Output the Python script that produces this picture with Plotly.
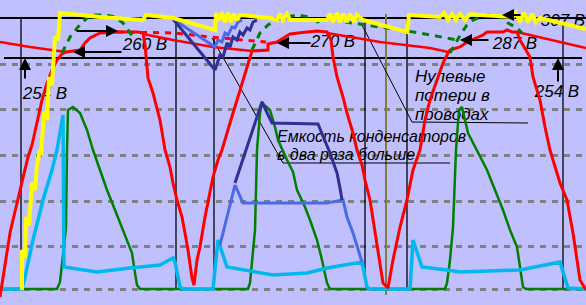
import plotly.graph_objects as go

# ---------------- data (time position, level; level axis drawn downward) ----------------
grid_levels = [64, 109, 155, 201, 246, 289]

# rectified mains voltage with capacitor charging/discharging (red)
red_x = [0, 3, 7, 10, 13, 17, 20, 23, 28, 32, 35, 42, 47, 52, 57, 62, 66, 72, 80, 85, 90, 100, 110, 117, 128, 138, 143,
         145, 148, 153, 160, 165, 170, 173, 177, 182, 185, 188, 192, 194,
         197, 200, 205, 210, 213, 218, 222, 230, 237, 243, 248, 252, 268, 268, 277, 290, 307, 317, 327, 331,
         333, 337, 343, 347, 353, 357, 362, 365, 370, 375, 380, 383, 388,
         393, 400, 407, 413, 420, 425, 430, 437, 443, 448, 450, 460, 467, 483, 487, 503, 507, 512, 517, 520,
         530, 533, 540, 545, 550, 553, 560, 567, 573, 580, 583, 586]
red_y = [297, 277, 250, 233, 220, 203, 193, 177, 157, 145, 132, 100, 83, 70, 60, 54, 52, 51, 50, 43, 38, 33, 32, 32, 32, 32, 33,
         45, 78, 93, 120, 150, 167, 183, 200, 217, 233, 250, 278, 285,
         260, 247, 217, 193, 177, 160, 150, 123, 100, 78, 62, 51, 50, 44, 42, 34, 32, 31, 32, 40,
         57, 77, 97, 113, 133, 150, 165, 180, 200, 233, 267, 283, 288,
         260, 227, 200, 170, 150, 120, 100, 80, 63, 53, 50, 47, 42, 35, 32, 32, 30, 32, 32, 40,
         57, 77, 100, 127, 150, 160, 183, 200, 233, 280, 285, 290]

# capacitor discharge lines (red, solid)
dis1_x, dis1_y = [0, 30, 66], [42, 47, 52]
dis2_x, dis2_y = [143, 173, 213, 252], [34, 40, 47, 51]
dis3_x, dis3_y = [327, 380, 430, 448], [33, 42, 48, 52]
dis4_x, dis4_y = [517, 586], [32, 48]
# discharge with doubled capacitance (red, dashed)
dis2c_x, dis2c_y = [117, 175, 210, 266], [32, 33, 37, 42]

# capacitor current pulses (green, solid)
gs_x = [0, 57, 60, 62, 66, 67, 68, 73, 80, 87, 93, 100, 107, 115, 123, 132, 135, 137, 140,
        248, 250, 252, 255, 257, 260, 262, 270, 275, 278, 287, 293, 297, 305, 310, 317, 322, 327, 330,
        445, 447, 450, 453, 456, 459, 462, 468, 477, 487, 495, 503, 510, 517, 520, 523, 526, 586]
gs_y = [289, 289, 282, 262, 228, 150, 110, 107, 113, 130, 150, 170, 190, 210, 230, 253, 273, 285, 289,
        289, 283, 260, 230, 150, 113, 103, 110, 127, 140, 160, 172, 190, 207, 220, 240, 260, 283, 289,
        289, 283, 260, 227, 150, 110, 107, 133, 150, 170, 190, 210, 230, 247, 267, 287, 289, 289]

# zero wire-loss voltage (green, dashed)
ga1_x, ga1_y = [62, 70, 78, 90, 107, 115, 123, 130, 135], [53, 37, 27, 15, 15, 17, 23, 33, 40]
ga2_x, ga2_y = [252, 256, 260, 268, 280, 297, 310, 318, 322], [50, 42, 33, 25, 18, 15, 17, 22, 28]
gd2_x, gd2_y = [345, 367, 387, 420, 440, 457], [22, 25, 28, 33, 37, 40]
ga3_x, ga3_y = [450, 457, 462, 467, 473, 487, 495, 503, 508, 517, 522], [53, 40, 32, 25, 20, 15, 15, 18, 23, 28, 33]

# current in supply (cyan)
cy_x = [0, 22, 25, 33, 43, 52, 57, 60, 63, 64, 97, 130, 160, 173, 175, 180, 183,
        213, 218, 227, 273, 307, 327, 362, 367, 370,
        410, 413, 422, 447, 460, 520, 560, 568, 586]
cy_y = [289, 289, 277, 240, 200, 170, 150, 130, 115, 267, 272, 268, 265, 258, 262, 287, 289,
        289, 240, 267, 275, 273, 268, 262, 287, 289,
        289, 240, 267, 270, 272, 270, 262, 288, 289]

# doubled capacitance current (navy / royal blue)
nv_low_x = [235, 262, 272, 318, 330, 337, 340, 342]
nv_low_y = [183, 102, 123, 124, 153, 173, 188, 200]
mb_low_x = [220, 235, 243, 327, 343, 347, 353, 362]
mb_low_y = [245, 185, 203, 203, 200, 217, 233, 262]
nv_top_x = [173, 215, 220, 223, 227, 230, 233, 237, 240, 243, 247, 250, 253, 257]
nv_top_y = [19, 70, 55, 57, 43, 47, 37, 40, 32, 35, 28, 30, 22, 20]
mb_top_x = [173, 215, 218, 222, 225, 228, 232, 235, 238, 242]
mb_top_y = [19, 47, 40, 42, 33, 35, 27, 28, 22, 20]

# zero-loss rectified output (yellow)
yl_x = [22, 22, 25, 26, 29, 32, 35, 37, 40, 41, 44, 47, 49, 52, 55, 58, 60,
        90, 100, 143, 146, 173, 215, 216, 219, 222, 225, 228, 231, 234, 237, 240, 270, 277, 280, 283, 287, 290,
        327, 330, 333, 337, 340, 343, 347, 350, 354, 357, 363, 407, 409,
        440, 444, 448, 452, 456, 460, 465, 470, 480, 513, 516, 520, 524, 528, 532, 536, 540, 586]
yl_y = [290, 250, 258, 217, 225, 183, 190, 165, 150, 155, 112, 120, 77, 85, 37, 40, 13,
        16, 17, 20, 15, 18, 30, 13, 20, 13, 22, 13, 22, 14, 20, 15, 18, 20, 14, 20, 14, 20,
        20, 14, 22, 13, 22, 14, 22, 14, 22, 15, 20, 32, 15,
        17, 13, 20, 14, 20, 14, 20, 14, 15, 17, 13, 22, 13, 22, 14, 22, 18, 29]

# reference lines
hline_y = [18, 58]
hline_x0 = [0, 4]
hline_x1 = [586, 582]
vline_x = [21, 176, 214, 365, 407, 563]
vline_y0 = [18, 18, 37, 18, 18, 25]
vline_y1 = [290, 290, 278, 275, 290, 290]
olive_x, olive_y0, olive_y1 = 386, 14, 295

# labels
volt_text = ["260 В", "254 В", "270 В", "287 В", "254 В", "307 В"]
volt_x = [145, 45, 333, 515, 557, 563]
volt_y = [46, 95, 43, 45, 93, 22]
note1_lines = ["Нулевые", "потери в", "проводах"]
note1_y = [78, 97, 116]
note2_lines = ["Емкость конденсаторов", "в два раза больше"]
note2_y = [138, 156]

BG = "#C0C0FF"
RED = "#FF0000"
GREEN = "#007F00"
YEL = "#FFFF00"
CYAN = "#00B8F0"
NAVY = "#303094"
MBLUE = "#4A6AE8"

fig = go.Figure()

def line(x, y, color, width, dash=None):
    fig.add_trace(go.Scatter(x=x, y=y, mode="lines", hoverinfo="skip",
                             line=dict(color=color, width=width, dash=dash)))

# black frame lines
for yv, a, b in zip(hline_y, hline_x0, hline_x1):
    line([a, b], [yv, yv], "black", 2)
for xv, a, b in zip(vline_x, vline_y0, vline_y1):
    line([xv, xv], [a, b], "black", 1.3)
line([olive_x, olive_x], [olive_y0, olive_y1], "#807F40", 2)

# leader lines
line([212, 283, 450], [38, 163, 163], "black", 1)
line([362, 412, 528], [25, 122, 123], "black", 1)

# label text (under the curves so the yellow covers "307 В")
fig.add_trace(go.Scatter(x=volt_x, y=volt_y, text=volt_text, mode="text", hoverinfo="skip",
                         textfont=dict(family="Liberation Sans", size=17, color="black", style="italic")))
fig.add_trace(go.Scatter(x=[415] * len(note1_lines), y=note1_y, text=note1_lines,
                         mode="text", textposition="middle right", hoverinfo="skip",
                         textfont=dict(family="Liberation Sans", size=17, color="black", style="italic")))
fig.add_trace(go.Scatter(x=[277] * len(note2_lines), y=note2_y, text=note2_lines,
                         mode="text", textposition="middle right", hoverinfo="skip",
                         textfont=dict(family="Liberation Sans", size=16, color="black", style="italic")))

line(gs_x, gs_y, GREEN, 2.5)
line(cy_x, cy_y, CYAN, 3.5)
line(mb_low_x, mb_low_y, MBLUE, 3)
line(nv_low_x, nv_low_y, NAVY, 3)
line(red_x, red_y, RED, 3)
for dx, dy in [(dis1_x, dis1_y), (dis2_x, dis2_y), (dis3_x, dis3_y), (dis4_x, dis4_y)]:
    line(dx, dy, RED, 2.5)
line(dis2c_x, dis2c_y, RED, 3, "6px,6px")
for ax_, ay_ in [(ga1_x, ga1_y), (ga2_x, ga2_y), (gd2_x, gd2_y), (ga3_x, ga3_y)]:
    line(ax_, ay_, GREEN, 3, "7px,6px")
line(mb_top_x, mb_top_y, MBLUE, 3)
line(nv_top_x, nv_top_y, NAVY, 3)
line(yl_x, yl_y, YEL, 4)

# arrows
arrows = [  # head x, head y, tail x, tail y
    (118, 31, 75, 31),
    (73, 52, 123, 52),
    (25, 58, 25, 80),
    (558, 58, 558, 83),
    (277, 43, 312, 43),
    (460, 40, 490, 40),
    (502, 15, 522, 15),
]
for hx, hy, tx, ty in arrows:
    fig.add_annotation(x=hx, y=hy, ax=tx, ay=ty, xref="x", yref="y", axref="x", ayref="y",
                       text="", showarrow=True, arrowhead=2, arrowsize=1.2, arrowwidth=2,
                       arrowcolor="black")

fig.update_layout(
    width=586, height=305, margin=dict(l=0, r=0, t=0, b=0),
    paper_bgcolor=BG, plot_bgcolor=BG, showlegend=False,
    xaxis=dict(range=[0, 586], visible=True, showgrid=False, zeroline=False,
               showticklabels=False, ticks="", showline=False, fixedrange=True),
    yaxis=dict(range=[305, 0], showgrid=True, tickvals=grid_levels, gridcolor="#808080",
               gridwidth=3, griddash="6px,6px", zeroline=False, showticklabels=False,
               ticks="", showline=False, fixedrange=True),
)

fig.write_html("out.html", config={"displayModeBar": False})
